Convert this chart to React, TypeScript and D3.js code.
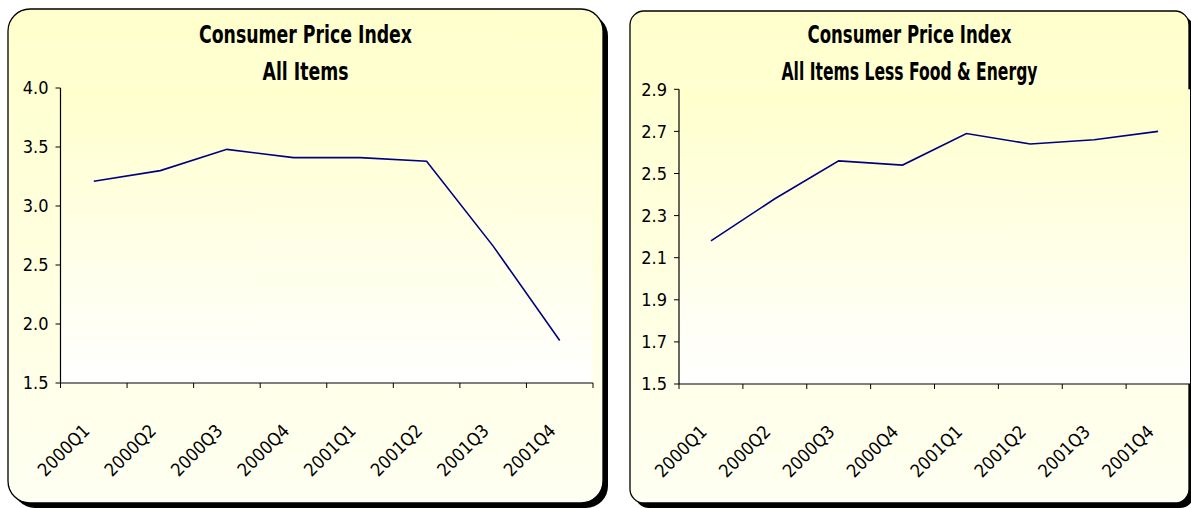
import React from "react";
import * as d3 from "d3";

const quarters = ["2000Q1", "2000Q2", "2000Q3", "2000Q4", "2001Q1", "2001Q2", "2001Q3", "2001Q4"];
const allItems = [3.21, 3.3, 3.48, 3.41, 3.41, 3.38, 2.66, 1.86];
const coreItems = [2.18, 2.38, 2.56, 2.54, 2.69, 2.64, 2.66, 2.7];
const allItemsTicks = [1.5, 2.0, 2.5, 3.0, 3.5, 4.0];
const coreTicks = [1.5, 1.7, 1.9, 2.1, 2.3, 2.5, 2.7, 2.9];

const FONT = "'DejaVu Sans Condensed', 'DejaVu Sans', sans-serif";

function Panel({ id, box, plot, titles, titleWidths, values, ticks, corner }) {
  // box = panel frame, plot = plot area (left, top, right, bottom)
  const x = d3.scaleBand().domain(quarters).range([plot.left, plot.right]);
  const y = d3.scaleLinear().domain([ticks[0], ticks[ticks.length - 1]]).range([plot.bottom, plot.top]);
  const line = d3.line<number>()
    .x((d, i) => x(quarters[i]) + x.bandwidth() / 2)
    .y(d => y(d));
  const cx = (box.x0 + box.x1) / 2;

  return (
    <g>
      <defs>
        <linearGradient id={id + "-bg"} x1="0" y1="0" x2="0" y2="1">
          <stop offset="0" stopColor="#ffffcc" />
          <stop offset="1" stopColor="#fffff2" />
        </linearGradient>
        <linearGradient id={id + "-plot"} x1="0" y1="0" x2="0" y2="1">
          <stop offset="0" stopColor="#ffffcc" />
          <stop offset="1" stopColor="#ffffff" />
        </linearGradient>
      </defs>
      {/* shadow, then frame */}
      <rect x={box.x0 + 5} y={box.y0 + 5} width={box.x1 - box.x0} height={box.y1 - box.y0} rx={corner} fill="#000" />
      <rect x={box.x0} y={box.y0} width={box.x1 - box.x0} height={box.y1 - box.y0} rx={corner}
        fill={`url(#${id}-bg)`} stroke="#000" strokeWidth={1.3} />
      <rect x={plot.left} y={plot.top} width={plot.right - plot.left} height={plot.bottom - plot.top}
        fill={`url(#${id}-plot)`} />

      {titles.map((t, i) => (
        <text key={t} x={cx} y={43 + i * 37} textAnchor="middle" fontFamily={FONT} fontWeight="bold"
          fontSize={25} textLength={titleWidths[i]} lengthAdjust="spacingAndGlyphs">{t}</text>
      ))}

      <path d={line(values)} fill="none" stroke="#000080" strokeWidth={1.6} />

      <line x1={plot.left} x2={plot.left} y1={plot.top} y2={plot.bottom} stroke="#000" strokeWidth={1.2} />
      <line x1={plot.left} x2={plot.right} y1={plot.bottom} y2={plot.bottom} stroke="#000" strokeWidth={1.2} />
      {ticks.map(t => (
        <g key={t}>
          <line x1={plot.left - 5} x2={plot.left} y1={y(t)} y2={y(t)} stroke="#000" />
          <text x={plot.left - 12} y={y(t)} dy="0.36em" textAnchor="end" fontFamily={FONT} fontSize={18}>
            {t.toFixed(1)}
          </text>
        </g>
      ))}
      {[plot.left].concat(quarters.map(q => x(q) + x.bandwidth())).map((b, i) => (
        <line key={i} x1={b} x2={b} y1={plot.bottom} y2={plot.bottom + 5} stroke="#000" />
      ))}
      {quarters.map(q => {
        const ax = x(q) + x.bandwidth() / 2 - 3;
        const ay = plot.bottom + 49;
        return (
          <text key={q} x={ax} y={ay} textAnchor="end" fontFamily={FONT} fontSize={18}
            transform={`rotate(-45 ${ax} ${ay})`}>{q}</text>
        );
      })}
    </g>
  );
}

export default function App() {
  return (
    <svg width={1191} height={508} style={{ position: "absolute", left: 0, top: 0 }}>
      <rect width={1191} height={508} fill="#fff" />
      <Panel
        id="all"
        box={{ x0: 8, y0: 9, x1: 603, y1: 503 }}
        plot={{ left: 60.5, top: 88, right: 593, bottom: 383 }}
        titles={["Consumer Price Index", "All Items"]}
        titleWidths={[213, 86]}
        values={allItems}
        ticks={allItemsTicks}
        corner={22}
      />
      <Panel
        id="core"
        box={{ x0: 630, y0: 11, x1: 1189, y1: 503 }}
        plot={{ left: 679, top: 89.3, right: 1190, bottom: 384 }}
        titles={["Consumer Price Index", "All Items Less Food & Energy"]}
        titleWidths={[204, 256]}
        values={coreItems}
        ticks={coreTicks}
        corner={14}
      />
    </svg>
  );
}
